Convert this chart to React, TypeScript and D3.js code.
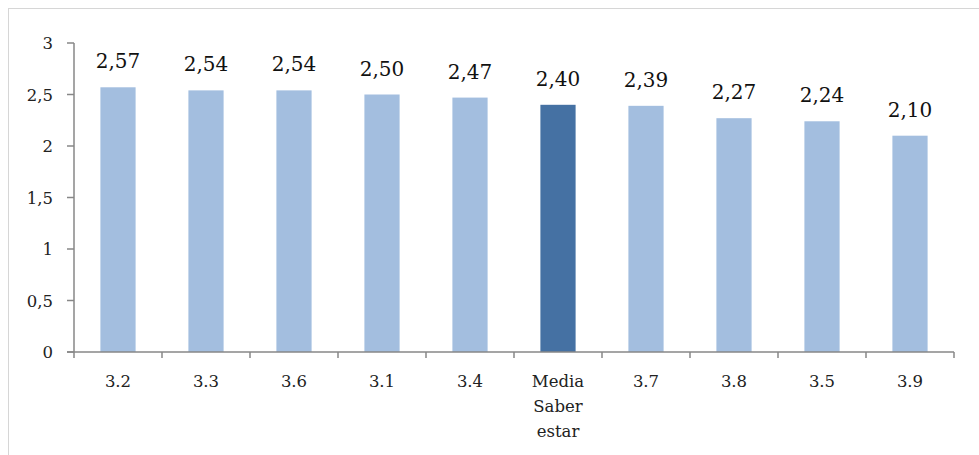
import React from "react";
import * as d3 from "d3";

const categories = ["3.2", "3.3", "3.6", "3.1", "3.4", "Media\nSaber\nestar", "3.7", "3.8", "3.5", "3.9"];
const values = [2.57, 2.54, 2.54, 2.5, 2.47, 2.4, 2.39, 2.27, 2.24, 2.1];
const highlighted = ["Media\nSaber\nestar"];
const yTicks = [0, 0.5, 1, 1.5, 2, 2.5, 3];

const W = 979;
const H = 455;
const left = 74;
const right = 954;
const top = 43;
const bottom = 352;

const fmt = (v: number, digits: number) => v.toFixed(digits).replace(".", ",");
const fmtTick = (v: number) => String(v).replace(".", ",");

export default function App() {
  const x = d3.scaleBand<string>().domain(categories).range([left, right]).paddingInner(0.6).paddingOuter(0.3);
  const y = d3.scaleLinear().domain([0, 3]).range([bottom, top]);
  const step = x.step();
  const font = "'DejaVu Serif', 'Liberation Serif', serif";
  const axisColor = "#878787";

  return (
    <svg width={W} height={H} style={{ position: "absolute", left: 0, top: 0 }} fontFamily={font}>
      <rect x={0} y={0} width={W} height={H} fill="#fff" />
      <rect x={8.5} y={8.5} width={W + 20} height={H + 20} fill="none" stroke="#d6d6d6" strokeWidth={1} />

      {categories.map((c, i) => {
        const v = values[i];
        const bx = x(c)!;
        const cx = bx + x.bandwidth() / 2;
        return (
          <g key={c}>
            <rect
              x={bx}
              y={y(v)}
              width={x.bandwidth()}
              height={y(0) - y(v)}
              fill={highlighted.includes(c) ? "#4571a3" : "#a3bedf"}
            />
            <text x={cx} y={y(v) - 19} textAnchor="middle" fontSize={20} fill="#111">
              {fmt(v, 2)}
            </text>
            <text textAnchor="middle" fontSize={16.5} fill="#222">
              {c.split("\n").map((line, k) => (
                <tspan key={k} x={cx} y={387 + k * 25}>
                  {line}
                </tspan>
              ))}
            </text>
          </g>
        );
      })}

      {/* y axis */}
      <line x1={left} x2={left} y1={top} y2={bottom} stroke={axisColor} strokeWidth={1.5} />
      {yTicks.map((t) => (
        <g key={t}>
          <line x1={left - 7} x2={left} y1={y(t)} y2={y(t)} stroke={axisColor} strokeWidth={1.5} />
          <text x={53} y={y(t) + 6} textAnchor="end" fontSize={16.5} fill="#222">
            {fmtTick(t)}
          </text>
        </g>
      ))}

      {/* x axis */}
      <line x1={left - 7} x2={right} y1={bottom} y2={bottom} stroke={axisColor} strokeWidth={1.5} />
      {d3.range(categories.length + 1).map((k) => (
        <line
          key={k}
          x1={left + k * step}
          x2={left + k * step}
          y1={bottom}
          y2={bottom + 6}
          stroke={axisColor}
          strokeWidth={1.5}
        />
      ))}
    </svg>
  );
}
